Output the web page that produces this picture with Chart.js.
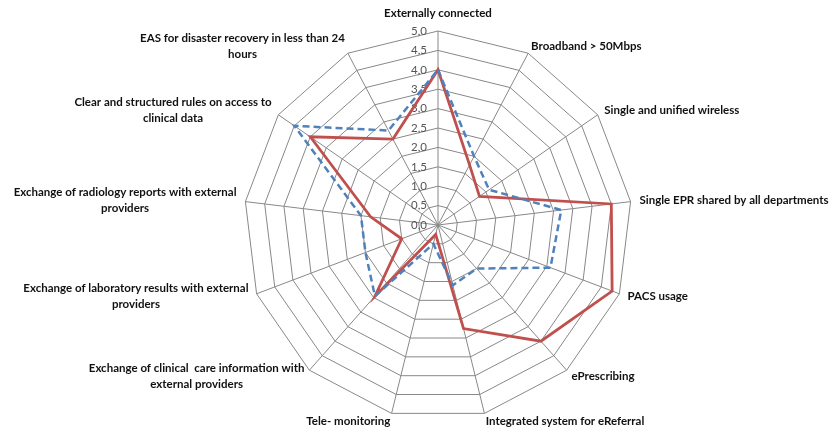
<!DOCTYPE html>
<html>
<head>
<meta charset="utf-8">
<script src="https://cdn.jsdelivr.net/npm/chart.js@4.4.0/dist/chart.umd.min.js"></script>
<style>
  html, body { margin: 0; padding: 0; background: #fff; }
  #wrap { width: 837px; height: 432px; position: relative; }
</style>
</head>
<body>
<div id="wrap"><canvas id="radar"></canvas></div>
<script>
(function () {
    const axisLabels = [
        ["Externally connected"],
        ["Broadband > 50Mbps"],
        ["Single and unified wireless"],
        ["Single EPR shared by all departments"],
        ["PACS usage"],
        ["ePrescribing"],
        ["Integrated system for eReferral"],
        ["Tele- monitoring"],
        ["Exchange of clinical  care information with", "external providers"],
        ["Exchange of laboratory results with external", "providers"],
        ["Exchange of radiology reports with external", "providers"],
        ["Clear and structured rules on access to", "clinical data"],
        ["EAS for disaster recovery in less than 24", "hours"]
    ];

    const redValues = [4.0, 1.75, 1.3, 4.5, 4.8, 4.0, 2.75, 0.25, 2.45, 1.0, 1.75, 4.0, 2.5];
    const blueValues = [4.0, 2.0, 1.6, 3.2, 3.1, 1.5, 1.6, 0.5, 2.45, 2.0, 2.0, 4.5, 2.75];

    const scaleMin = 0;
    const scaleMax = 5;
    const scaleStep = 0.5;

    const labelFont = 'bold 11.5px Lato, "Open Sans", sans-serif';
    const tickFont = '11.5px Lato, "Open Sans", sans-serif';

    // tick labels ("0,0" ... "5,0") just left of the vertical axis
    const tickPlugin = {
        id: 'tickText',
        beforeDatasetsDraw(chart) {
            const s = chart.scales.r;
            const ctx = chart.ctx;
            ctx.save();
            ctx.font = tickFont;
            ctx.fillStyle = '#555';
            ctx.textAlign = 'right';
            ctx.textBaseline = 'middle';
            s.ticks.forEach(t => {
                const y = s.yCenter - s.getDistanceFromCenterForValue(t.value);
                ctx.fillText(t.value.toFixed(1).replace('.', ','), s.xCenter - 11, y);
            });
            ctx.restore();
        }
    };

    // axis labels, centred lines, block hung off the end of each spoke
    const labelPlugin = {
        id: 'axisText',
        afterDraw(chart) {
            const s = chart.scales.r;
            const ctx = chart.ctx;
            ctx.save();
            ctx.font = labelFont;
            ctx.fillStyle = '#111';
            ctx.textAlign = 'center';
            ctx.textBaseline = 'middle';
            const lineH = 16;
            axisLabels.forEach((lines, i) => {
                const a = s.getIndexAngle(i);
                const sn = Math.sin(a), cs = Math.cos(a);
                const gap = 4 + 5 * Math.abs(sn);
                const end = s.getPointPosition(i, s.drawingArea);
                const p = s.getPointPosition(i, s.drawingArea + gap);
                const w = Math.max(...lines.map(l => ctx.measureText(l).width));
                const h = lines.length * lineH;
                let cx, cy;
                if (Math.abs(sn) < 0.1) {
                    cx = end.x;
                    cy = cs > 0 ? end.y - 18 : end.y + 18;
                } else {
                    cx = sn > 0 ? p.x + w / 2 : p.x - w / 2;
                    cy = end.y - 8 * cs;
                }
                const top = cy - h / 2 + lineH / 2;
                lines.forEach((l, k) => ctx.fillText(l, cx, top + k * lineH));
            });
            ctx.restore();
        }
    };

    new Chart(document.getElementById('radar').getContext('2d'), {
        type: 'radar',
        data: {
            labels: axisLabels.map(l => l.join(' ')),
            datasets: [
                {
                    data: blueValues,
                    borderColor: '#4f81bd',
                    borderWidth: 2.5,
                    borderDash: [7, 4],
                    fill: false,
                    pointRadius: 0,
                    tension: 0
                },
                {
                    data: redValues,
                    borderColor: '#c0504d',
                    borderWidth: 2.8,
                    fill: false,
                    pointRadius: 0,
                    tension: 0
                }
            ]
        },
        options: {
            responsive: true,
            maintainAspectRatio: false,
            animation: false,
            layout: { padding: 0 },
            scales: {
                r: {
                    min: scaleMin,
                    max: scaleMax,
                    ticks: { stepSize: scaleStep, display: false },
                    grid: { color: '#888', lineWidth: 1 },
                    angleLines: { color: '#888', lineWidth: 1 },
                    pointLabels: { display: false },
                    afterFit: scale => {
                        scale.xCenter = 438;
                        scale.yCenter = 225;
                        scale.drawingArea = 194;
                    }
                }
            },
            plugins: {
                legend: { display: false },
                tooltip: { enabled: false }
            }
        },
        plugins: [tickPlugin, labelPlugin]
    });
})();
</script>
</body>
</html>
